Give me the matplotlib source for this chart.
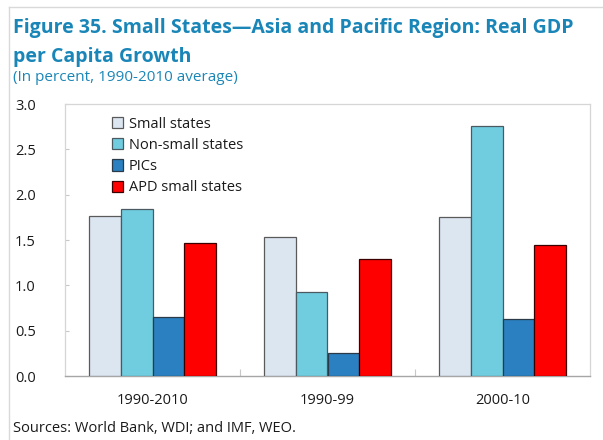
import matplotlib.pyplot as plt
import numpy as np
from matplotlib.lines import Line2D

plt.rcParams['font.family'] = ['Open Sans', 'DejaVu Sans']

periods = ["1990-2010", "1990-99", "2000-10"]
series_names = ["Small states", "Non-small states", "PICs", "APD small states"]
small_states = [1.77, 1.53, 1.75]
non_small_states = [1.84, 0.93, 2.76]
pics = [0.65, 0.25, 0.63]
apd_small_states = [1.47, 1.29, 1.44]

colors = ["#dce6f1", "#70cddf", "#2a80c0", "#ff0000"]
edges = ["#5a5a5a", "#4a5a60", "#2a3a48", "#3a0000"]
title_color = "#1a86b8"
text_color = "#1a1a1a"

fig = plt.figure(figsize=(6.03, 4.40), dpi=100)
ax = fig.add_axes([65 / 603, 64 / 440, 525 / 603, 272 / 440])

x = np.arange(len(periods))
width = 0.182
all_series = [small_states, non_small_states, pics, apd_small_states]
for i, (vals, name) in enumerate(zip(all_series, series_names)):
    offs = (i - 1.5) * width
    ax.bar(x + offs, vals, width, color=colors[i], edgecolor=edges[i],
           linewidth=0.9, label=name, zorder=3)

ax.set_xlim(-0.5, 2.5)
ax.set_ylim(0, 3.0)
yt = np.arange(0, 3.01, 0.5)
ax.set_yticks(yt)
ax.set_yticklabels([f"{v:.1f}" for v in yt])
ax.set_xticks(x)
ax.set_xticklabels(periods)
ax.set_xticks([0.5, 1.5], minor=True)
ax.tick_params(axis='x', which='major', length=0, pad=12, labelsize=10.5, labelcolor=text_color)
ax.tick_params(axis='x', which='minor', direction='in', length=5, color="#c8c8c8", width=0.8)
ax.tick_params(axis='y', direction='in', length=3, color="#c8c8c8", width=0.8,
               pad=21, labelsize=10.5, labelcolor=text_color)

for side in ['top', 'right', 'left']:
    ax.spines[side].set_color("#d6d6d6")
    ax.spines[side].set_linewidth(0.9)
ax.spines['bottom'].set_color("#a6a6a6")
ax.spines['bottom'].set_linewidth(1.0)

leg = ax.legend(loc='upper left', bbox_to_anchor=(0.072, 0.985), frameon=False,
                fontsize=10.5, handlelength=0.8, handleheight=0.8, handletextpad=0.4,
                labelspacing=0.42, borderaxespad=0.2)
for t in leg.get_texts():
    t.set_color(text_color)

fig.text(13 / 603, 1 - 33 / 440, "Figure 35. Small States\u2014Asia and Pacific Region: Real GDP",
         fontsize=14, fontweight='bold', color=title_color, ha='left', va='baseline')
fig.text(13 / 603, 1 - 62 / 440, "per Capita Growth",
         fontsize=14, fontweight='bold', color=title_color, ha='left', va='baseline')
fig.text(13 / 603, 1 - 81 / 440, "(In percent, 1990-2010 average)",
         fontsize=11, color=title_color, ha='left', va='baseline')
fig.text(13 / 603, 1 - 432 / 440, "Sources: World Bank, WDI; and IMF, WEO.",
         fontsize=10.5, color=text_color, ha='left', va='baseline')

# thin frame along the top and left edge of the page
fig.add_artist(Line2D([9 / 603, 1.0], [1 - 7 / 440, 1 - 7 / 440], color="#d9d9d9", lw=1.0))
fig.add_artist(Line2D([9 / 603, 9 / 603], [0, 1 - 7 / 440], color="#d9d9d9", lw=1.0))

fig.savefig("out.png", dpi=100)
